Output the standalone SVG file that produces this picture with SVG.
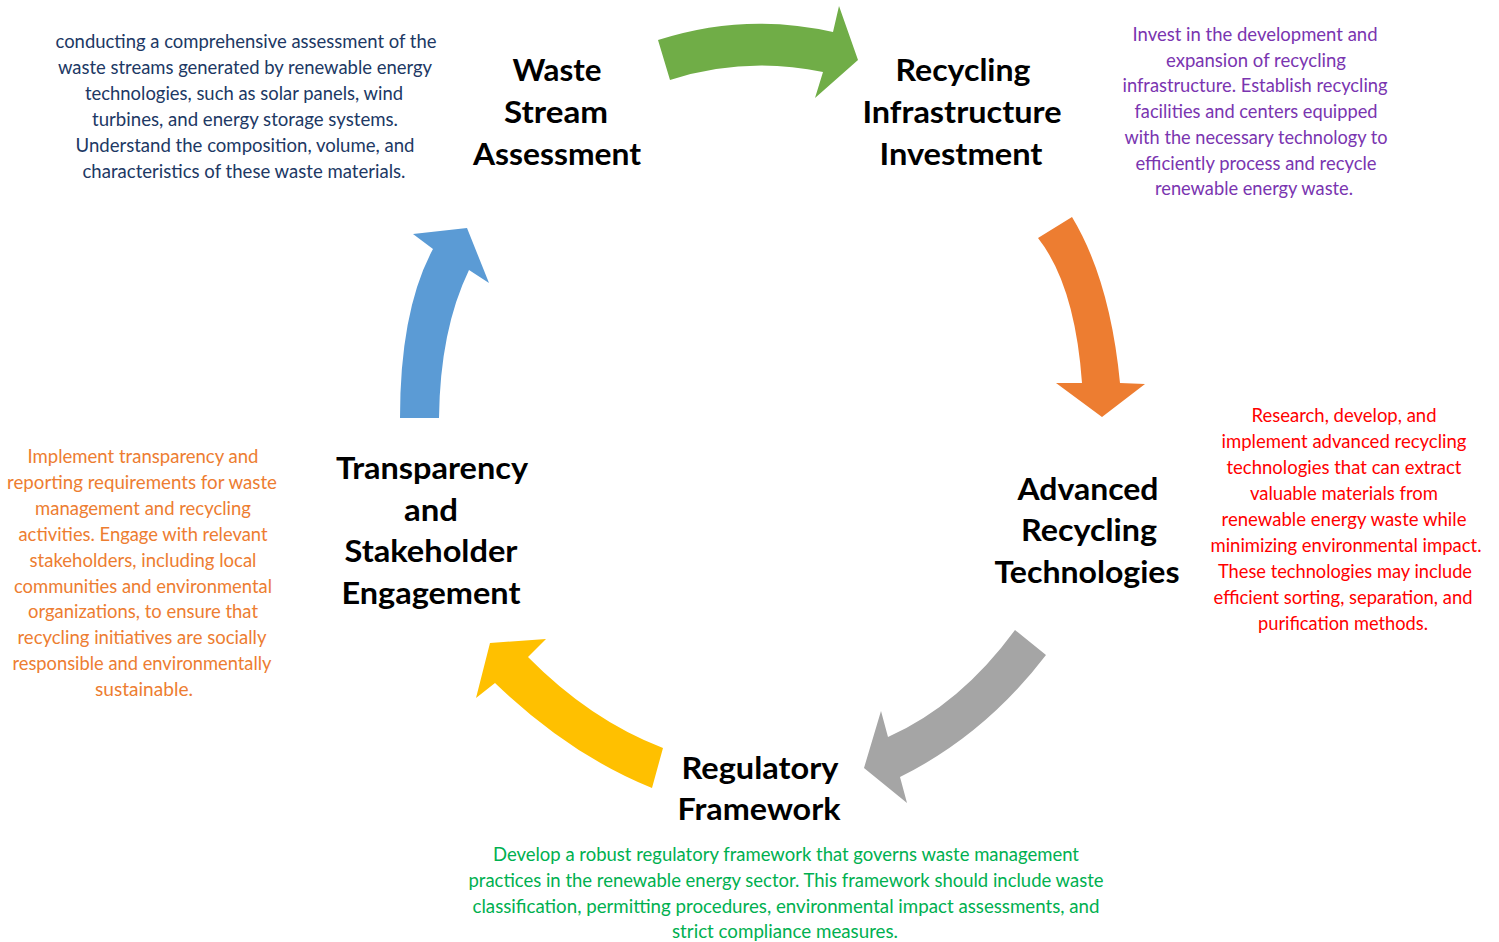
<svg xmlns="http://www.w3.org/2000/svg" width="1499" height="942" viewBox="0 0 1499 942">
<style>
.t{font-family:Lato,"Liberation Sans",sans-serif;font-weight:700;font-size:31px;fill:#000;text-anchor:middle}
.d{font-family:Lato,"Liberation Sans",sans-serif;font-size:18.5px;text-anchor:middle}
.blue{fill:#203864}.purple{fill:#7A35B0}.red{fill:#FF0000}.orange{fill:#ED7D31}.green{fill:#00B050}
</style>
<rect width="1499" height="942" fill="#fff"/>
<g id="connectors">
<path id="arrow-green" fill="#70AD47" d="M658,40 Q745,12 833,32 L839,6 L858,60 L815,98 L823,72 Q745,56 670,80 Z"/>
<path id="arrow-orange" fill="#ED7D31" d="M1038,238 L1072,217 Q1110,280 1120,383 L1145,384 L1102,417 L1056,383 L1082,383 Q1075,285 1038,238 Z"/>
<path id="arrow-gray" fill="#A5A5A5" d="M1015,630 L1046,655 Q985,735 900,777 L907,803 L864,768 L881,711 L888,737 Q960,705 1015,630 Z"/>
<path id="arrow-yellow" fill="#FFC000" d="M490,643 L546,639 L528,657 Q590,720 663,748 L652,788 Q570,755 495,683 L476,698 Z"/>
<path id="arrow-blue" fill="#5B9BD5" d="M400,418 Q400,310 433,249 L413,234 L467,228 L489,283 L469,270 Q440,330 439,418 Z"/>
</g>
<g id="node-waste-stream-assessment">
<text class="t" x="557" y="81" textLength="89" lengthAdjust="spacingAndGlyphs">Waste</text>
<text class="t" x="556" y="123" textLength="104" lengthAdjust="spacingAndGlyphs">Stream</text>
<text class="t" x="557" y="165" textLength="168" lengthAdjust="spacingAndGlyphs">Assessment</text>
<g class="d blue">
<text x="246" y="48" textLength="381" lengthAdjust="spacingAndGlyphs">conducting  a comprehensive  assessment of the</text>
<text x="245" y="74" textLength="374" lengthAdjust="spacingAndGlyphs">waste streams generated by renewable energy</text>
<text x="244" y="100" textLength="318" lengthAdjust="spacingAndGlyphs">technologies, such as solar panels, wind</text>
<text x="245" y="126" textLength="306" lengthAdjust="spacingAndGlyphs">turbines, and energy storage systems.</text>
<text x="245" y="152" textLength="339" lengthAdjust="spacingAndGlyphs">Understand  the composition,  volume,  and</text>
<text x="244" y="178" textLength="323" lengthAdjust="spacingAndGlyphs">characteristics of these waste materials.</text>
</g>
</g>
<g id="node-recycling-infrastructure-investment">
<text class="t" x="963" y="81" textLength="135" lengthAdjust="spacingAndGlyphs">Recycling</text>
<text class="t" x="962" y="123" textLength="199" lengthAdjust="spacingAndGlyphs">Infrastructure</text>
<text class="t" x="961" y="165" textLength="163" lengthAdjust="spacingAndGlyphs">Investment</text>
<g class="d purple">
<text x="1255" y="41" textLength="245" lengthAdjust="spacingAndGlyphs">Invest in the development  and</text>
<text x="1256" y="67" textLength="180" lengthAdjust="spacingAndGlyphs">expansion of recycling</text>
<text x="1255" y="92" textLength="265" lengthAdjust="spacingAndGlyphs">infrastructure. Establish recycling</text>
<text x="1256" y="118" textLength="243" lengthAdjust="spacingAndGlyphs">facilities and centers equipped</text>
<text x="1256" y="144" textLength="263" lengthAdjust="spacingAndGlyphs">with the  necessary technology to</text>
<text x="1256" y="170" textLength="241" lengthAdjust="spacingAndGlyphs">efficiently process and recycle</text>
<text x="1254" y="195" textLength="198" lengthAdjust="spacingAndGlyphs">renewable energy waste.</text>
</g>
</g>
<g id="node-advanced-recycling-technologies">
<text class="t" x="1088" y="500" textLength="141" lengthAdjust="spacingAndGlyphs">Advanced</text>
<text class="t" x="1089" y="541" textLength="136" lengthAdjust="spacingAndGlyphs">Recycling</text>
<text class="t" x="1087" y="583" textLength="185" lengthAdjust="spacingAndGlyphs">Technologies</text>
<g class="d red">
<text x="1344" y="422" textLength="185" lengthAdjust="spacingAndGlyphs">Research, develop, and</text>
<text x="1344" y="448" textLength="245" lengthAdjust="spacingAndGlyphs">implement  advanced recycling</text>
<text x="1344" y="474" textLength="235" lengthAdjust="spacingAndGlyphs">technologies that  can extract</text>
<text x="1344" y="500" textLength="188" lengthAdjust="spacingAndGlyphs">valuable materials from</text>
<text x="1344" y="526" textLength="245" lengthAdjust="spacingAndGlyphs">renewable energy waste while</text>
<text x="1346" y="552" textLength="271" lengthAdjust="spacingAndGlyphs">minimizing  environmental  impact.</text>
<text x="1345" y="578" textLength="254" lengthAdjust="spacingAndGlyphs">These technologies  may include</text>
<text x="1343" y="604" textLength="259" lengthAdjust="spacingAndGlyphs">efficient sorting, separation, and</text>
<text x="1343" y="630" textLength="170" lengthAdjust="spacingAndGlyphs">purification methods.</text>
</g>
</g>
<g id="node-regulatory-framework">
<text class="t" x="760" y="779" textLength="157" lengthAdjust="spacingAndGlyphs">Regulatory</text>
<text class="t" x="759" y="820" textLength="163" lengthAdjust="spacingAndGlyphs">Framework</text>
<g class="d green">
<text x="786" y="861" textLength="586" lengthAdjust="spacingAndGlyphs">Develop a robust  regulatory framework  that governs waste management</text>
<text x="786" y="887" textLength="635" lengthAdjust="spacingAndGlyphs">practices in the renewable energy sector. This framework  should include waste</text>
<text x="786" y="913" textLength="627" lengthAdjust="spacingAndGlyphs">classification, permitting procedures,  environmental  impact assessments, and</text>
<text x="785" y="938" textLength="226" lengthAdjust="spacingAndGlyphs">strict compliance  measures.</text>
</g>
</g>
<g id="node-transparency-stakeholder-engagement">
<text class="t" x="432" y="479" textLength="192" lengthAdjust="spacingAndGlyphs">Transparency</text>
<text class="t" x="431" y="521" textLength="54" lengthAdjust="spacingAndGlyphs">and</text>
<text class="t" x="431" y="562" textLength="173" lengthAdjust="spacingAndGlyphs">Stakeholder</text>
<text class="t" x="431" y="604" textLength="179" lengthAdjust="spacingAndGlyphs">Engagement</text>
<g class="d orange">
<text x="143" y="463" textLength="231" lengthAdjust="spacingAndGlyphs">Implement  transparency and</text>
<text x="142" y="489" textLength="270" lengthAdjust="spacingAndGlyphs">reporting  requirements  for waste</text>
<text x="143" y="515" textLength="216" lengthAdjust="spacingAndGlyphs">management and recycling</text>
<text x="143" y="541" textLength="249" lengthAdjust="spacingAndGlyphs">activities. Engage with relevant</text>
<text x="143" y="567" textLength="227" lengthAdjust="spacingAndGlyphs">stakeholders, including local</text>
<text x="143" y="593" textLength="258" lengthAdjust="spacingAndGlyphs">communities  and environmental</text>
<text x="143" y="618" textLength="230" lengthAdjust="spacingAndGlyphs">organizations, to ensure that</text>
<text x="142" y="644" textLength="249" lengthAdjust="spacingAndGlyphs">recycling initiatives are socially</text>
<text x="142" y="670" textLength="259" lengthAdjust="spacingAndGlyphs">responsible and environmentally</text>
<text x="144" y="696" textLength="98" lengthAdjust="spacingAndGlyphs">sustainable.</text>
</g>
</g>
</svg>
